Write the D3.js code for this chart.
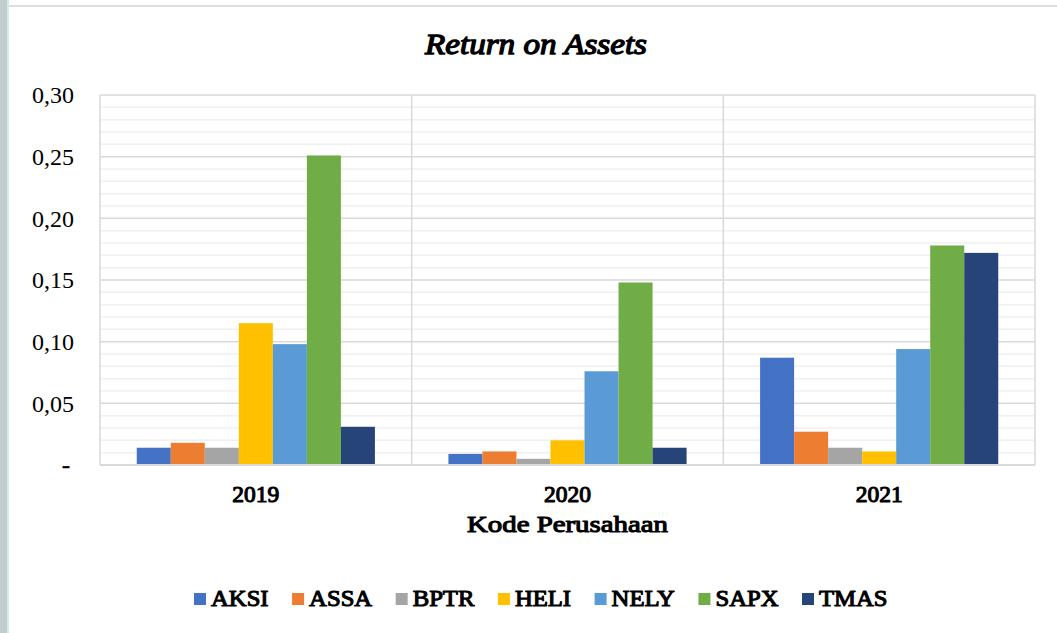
<!DOCTYPE html>
<html>
<head>
<meta charset="utf-8">
<script src="https://cdn.jsdelivr.net/npm/d3@7"></script>
<style>
  body { margin: 0; background: #fff; }
  text { font-family: "Liberation Serif", serif; }
</style>
</head>
<body>
<svg id="chart"></svg>
<script>
// data
var years = ["2019", "2020", "2021"];
var companies = ["AKSI", "ASSA", "BPTR", "HELI", "NELY", "SAPX", "TMAS"];
var colors = ["#4472C4", "#ED7D31", "#A5A5A5", "#FFC000", "#5B9BD5", "#70AD47", "#264478"];
var roa2019 = [0.014, 0.018, 0.014, 0.115, 0.098, 0.251, 0.031];
var roa2020 = [0.009, 0.011, 0.005, 0.020, 0.076, 0.148, 0.014];
var roa2021 = [0.087, 0.027, 0.014, 0.011, 0.094, 0.178, 0.172];
var yTicks = [0, 0.05, 0.10, 0.15, 0.20, 0.25, 0.30];

var width = 1057;
var height = 633;
var plot = { left: 100, right: 1035, top: 95, bottom: 465 };
var serif = "Liberation Serif";

var series = [roa2019, roa2020, roa2021];
var rows = [];
years.forEach(function(y, i) {
  companies.forEach(function(c, j) {
    rows.push({ year: y, company: c, value: series[i][j] });
  });
});

// no bold face installed for the serif, so thicken the regular one
function fakeBold(sel, w) {
  sel.attr("font-family", serif)
    .attr("font-weight", "normal")
    .attr("fill", "#000")
    .attr("stroke", "#000")
    .attr("stroke-width", w || 1)
    .attr("stroke-linejoin", "round");
}

var svg = d3.select("#chart")
  .attr("width", width)
  .attr("height", height);

// page frame
svg.append("rect").attr("x", 0).attr("y", 0).attr("width", 7).attr("height", height).attr("fill", "#c3cdcd");
svg.append("rect").attr("x", 7).attr("y", 0).attr("width", 2).attr("height", height).attr("fill", "#cdeee8");
svg.append("line").attr("x1", 9).attr("x2", width).attr("y1", 6).attr("y2", 6)
  .attr("stroke", "#dedede").attr("stroke-width", 2);

var x0 = d3.scaleBand().domain(years).range([plot.left, plot.right]).padding(0);
var x1 = d3.scaleBand().domain(companies).range([0, x0.bandwidth()]).paddingInner(0).paddingOuter(1.08);
var y = d3.scaleLinear().domain([0, 0.30]).range([plot.bottom, plot.top]);
var color = d3.scaleOrdinal().domain(companies).range(colors);

// minor gridlines
svg.append("g")
  .selectAll("line")
  .data(d3.range(1, 30).map(function(d) { return d / 100; }).filter(function(d, i) { return (i + 1) % 5 != 0; }))
  .enter().append("line")
  .attr("x1", plot.left).attr("x2", plot.right)
  .attr("y1", function(d) { return y(d); })
  .attr("y2", function(d) { return y(d); })
  .attr("stroke", "#f0f0f0")
  .attr("stroke-width", 1.5);

// major gridlines
svg.append("g")
  .selectAll("line")
  .data(yTicks)
  .enter().append("line")
  .attr("x1", plot.left).attr("x2", plot.right)
  .attr("y1", function(d) { return y(d); })
  .attr("y2", function(d) { return y(d); })
  .attr("stroke", "#d9d9d9")
  .attr("stroke-width", 1.5);

// vertical separators
svg.append("g")
  .selectAll("line")
  .data(x0.domain().map(function(d) { return x0(d); }).concat([plot.right]))
  .enter().append("line")
  .attr("x1", function(d) { return d; })
  .attr("x2", function(d) { return d; })
  .attr("y1", plot.top).attr("y2", plot.bottom)
  .attr("stroke", "#d9d9d9")
  .attr("stroke-width", 1.5);

// bars
svg.append("g")
  .selectAll("rect")
  .data(rows)
  .enter().append("rect")
  .attr("x", function(d) { return x0(d.year) + x1(d.company); })
  .attr("y", function(d) { return y(d.value); })
  .attr("width", x1.bandwidth())
  .attr("height", function(d) { return plot.bottom - y(d.value); })
  .attr("fill", function(d) { return color(d.company); });

// bottom axis line
svg.append("line")
  .attr("x1", plot.left).attr("x2", plot.right)
  .attr("y1", plot.bottom).attr("y2", plot.bottom)
  .attr("stroke", "#d9d9d9").attr("stroke-width", 2);

// y axis labels
var yAxis = d3.axisLeft(y)
  .tickValues(yTicks)
  .tickSize(0)
  .tickPadding(26)
  .tickFormat(function(d) { return d === 0 ? "-" : d3.format(".2f")(d).replace(".", ","); });
var yg = svg.append("g")
  .attr("transform", "translate(" + plot.left + ",0)")
  .call(yAxis);
yg.attr("font-family", serif);
yg.select(".domain").remove();
yg.selectAll("text")
  .attr("font-family", serif)
  .attr("font-size", 24)
  .attr("fill", "#000");
yg.selectAll("text").filter(function(d) { return d === 0; }).attr("dx", -4).attr("stroke", "#000").attr("stroke-width", 0.6);

// x axis labels
var xAxis = d3.axisBottom(x0).tickSize(0).tickPadding(20);
var xg = svg.append("g")
  .attr("transform", "translate(0," + plot.bottom + ")")
  .call(xAxis);
xg.attr("font-family", serif);
xg.select(".domain").remove();
xg.selectAll("text")
  .attr("font-size", 23.5)
  .call(fakeBold, 1.1);

// titles
svg.append("text")
  .attr("x", 536).attr("y", 54)
  .attr("text-anchor", "middle")
  .attr("font-size", 29)
  .attr("font-style", "italic")
  .attr("textLength", 222)
  .attr("lengthAdjust", "spacingAndGlyphs")
  .call(fakeBold, 1.3)
  .text("Return on Assets");

svg.append("text")
  .attr("x", (plot.left + plot.right) / 2).attr("y", 532)
  .attr("text-anchor", "middle")
  .attr("font-size", 24)
  .attr("textLength", 201)
  .attr("lengthAdjust", "spacingAndGlyphs")
  .call(fakeBold, 1.1)
  .text("Kode Perusahaan");

// legend
var legend = svg.append("g").attr("transform", "translate(194,0)");
var lx = 0;
companies.forEach(function(c) {
  var item = legend.append("g").attr("transform", "translate(" + lx + ",0)");
  item.append("rect")
    .attr("x", 0).attr("y", 593)
    .attr("width", 12).attr("height", 12)
    .attr("fill", color(c));
  var t = item.append("text")
    .attr("x", 17).attr("y", 605.5)
    .attr("font-size", 23.5)
    .call(fakeBold, 1.1)
    .text(c);
  var len = t.node().getComputedTextLength() * 1.05;
  t.attr("textLength", len).attr("lengthAdjust", "spacingAndGlyphs");
  lx += 17 + len + 23.5;
});
</script>
</body>
</html>
